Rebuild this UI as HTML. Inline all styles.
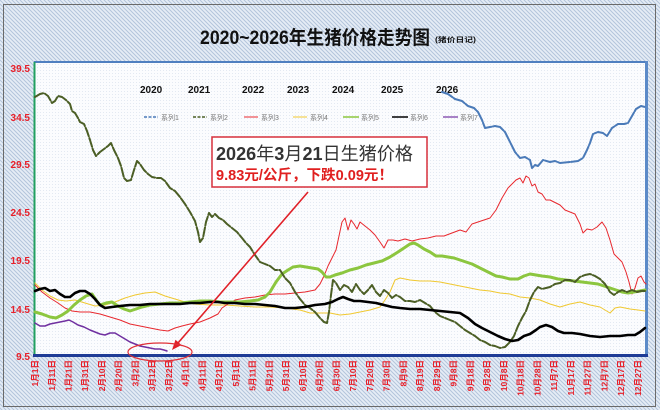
<!DOCTYPE html>
<html><head><meta charset="utf-8"><style>
html,body{margin:0;padding:0;background:#e8eef6;}
body{width:660px;height:410px;overflow:hidden;}
svg{display:block;}
.yl{font-family:"Liberation Sans","Noto Sans CJK SC",sans-serif;font-weight:bold;font-size:10px;fill:#e8202a;}
.xl{font-family:"Liberation Sans","Noto Sans CJK SC",sans-serif;font-weight:bold;font-size:8.5px;fill:#e8202a;}
.yr{font-family:"Liberation Sans",sans-serif;font-weight:bold;font-size:10px;fill:#111;}
.lg{font-family:"Liberation Sans","Noto Sans CJK SC",sans-serif;font-size:7px;fill:#777;}
</style></head><body>
<svg width="660" height="410" viewBox="0 0 660 410" xmlns="http://www.w3.org/2000/svg">
<defs>
<pattern id="hatch" patternUnits="userSpaceOnUse" width="4" height="4">
<rect width="4" height="4" fill="#e6edf6"/>
<path d="M0,0 L4,4 M-1,3 L1,5 M3,-1 L5,1" stroke="#b3c4db" stroke-width="1"/>
</pattern>
<pattern id="dots" patternUnits="userSpaceOnUse" width="3" height="3">
<rect width="3" height="3" fill="#fbfcfe"/>
<rect x="1" y="1" width="1" height="1" fill="#e3e9f2"/>
</pattern>
</defs>
<rect x="0" y="0" width="660" height="410" fill="url(#hatch)"/>
<rect x="3.5" y="4.5" width="652" height="402" fill="none" stroke="#6a6a6a" stroke-width="1"/>

<!-- title -->
<text x="200" y="44" textLength="230" lengthAdjust="spacingAndGlyphs" font-family="'Liberation Sans','Noto Sans CJK SC',sans-serif" font-weight="bold" font-size="19" fill="#111">2020~2026年生猪价格走势图</text>
<text x="435" y="42" textLength="41" lengthAdjust="spacingAndGlyphs" font-family="'Liberation Sans','Noto Sans CJK SC',sans-serif" font-weight="bold" font-size="7" fill="#111">(猪价日记)</text>

<!-- plot area -->
<rect x="34" y="62" width="612" height="294" fill="url(#dots)"/>
<line x1="34" y1="62" x2="647" y2="62" stroke="#4f7fc0" stroke-width="2"/>
<line x1="646.5" y1="61" x2="646.5" y2="357" stroke="#5b8ac8" stroke-width="3"/>
<line x1="34.5" y1="62" x2="34.5" y2="357" stroke="#22a060" stroke-width="2"/>
<line x1="33" y1="355.5" x2="648" y2="355.5" stroke="#1f3c96" stroke-width="3"/>

<!-- y labels -->
<text class="yl" x="30" y="72" text-anchor="end">39.5</text>
<text class="yl" x="30" y="121" text-anchor="end">34.5</text>
<text class="yl" x="30" y="168" text-anchor="end">29.5</text>
<text class="yl" x="30" y="216" text-anchor="end">24.5</text>
<text class="yl" x="30" y="264" text-anchor="end">19.5</text>
<text class="yl" x="30" y="313" text-anchor="end">14.5</text>
<text class="yl" x="30" y="360" text-anchor="end">9.5</text>

<!-- x labels -->
<g class="xl" text-anchor="end">
<text transform="translate(38,360) rotate(-90)">1月1日</text>
<text transform="translate(55,360) rotate(-90)">1月11日</text>
<text transform="translate(71.5,360) rotate(-90)">1月21日</text>
<text transform="translate(88.2,360) rotate(-90)">1月31日</text>
<text transform="translate(105,360) rotate(-90)">2月10日</text>
<text transform="translate(121.7,360) rotate(-90)">2月20日</text>
<text transform="translate(138.5,360) rotate(-90)">3月2日</text>
<text transform="translate(155.2,360) rotate(-90)">3月12日</text>
<text transform="translate(172,360) rotate(-90)">3月22日</text>
<text transform="translate(188.7,360) rotate(-90)">4月1日</text>
<text transform="translate(205.5,360) rotate(-90)">4月11日</text>
<text transform="translate(222.2,360) rotate(-90)">4月21日</text>
<text transform="translate(239,360) rotate(-90)">5月1日</text>
<text transform="translate(255.7,360) rotate(-90)">5月11日</text>
<text transform="translate(272.5,360) rotate(-90)">5月21日</text>
<text transform="translate(289.2,360) rotate(-90)">5月31日</text>
<text transform="translate(306,360) rotate(-90)">6月10日</text>
<text transform="translate(322.7,360) rotate(-90)">6月20日</text>
<text transform="translate(339.5,360) rotate(-90)">6月30日</text>
<text transform="translate(356.2,360) rotate(-90)">7月10日</text>
<text transform="translate(373,360) rotate(-90)">7月20日</text>
<text transform="translate(389.7,360) rotate(-90)">7月30日</text>
<text transform="translate(406.5,360) rotate(-90)">8月9日</text>
<text transform="translate(423.2,360) rotate(-90)">8月19日</text>
<text transform="translate(440,360) rotate(-90)">8月29日</text>
<text transform="translate(456.7,360) rotate(-90)">9月8日</text>
<text transform="translate(473.5,360) rotate(-90)">9月18日</text>
<text transform="translate(490.2,360) rotate(-90)">9月28日</text>
<text transform="translate(507,360) rotate(-90)">10月8日</text>
<text transform="translate(523.7,360) rotate(-90)">10月18日</text>
<text transform="translate(540.5,360) rotate(-90)">10月28日</text>
<text transform="translate(557.2,360) rotate(-90)">11月7日</text>
<text transform="translate(574,360) rotate(-90)">11月17日</text>
<text transform="translate(590.7,360) rotate(-90)">11月27日</text>
<text transform="translate(607.5,360) rotate(-90)">12月7日</text>
<text transform="translate(624.2,360) rotate(-90)">12月17日</text>
<text transform="translate(641,360) rotate(-90)">12月27日</text>
</g>

<!-- year labels -->
<text class="yr" x="140" y="93">2020</text>
<text class="yr" x="188" y="93">2021</text>
<text class="yr" x="242" y="93">2022</text>
<text class="yr" x="287" y="93">2023</text>
<text class="yr" x="332" y="93">2024</text>
<text class="yr" x="381" y="93">2025</text>
<text class="yr" x="436" y="93">2026</text>

<!-- legend -->
<line x1="144" y1="117" x2="158" y2="117" stroke="#4a7ab8" stroke-width="1.5" stroke-dasharray="3,1.5"/><text class="lg" x="161" y="120">系列1</text>
<line x1="193" y1="117" x2="207" y2="117" stroke="#4b5e25" stroke-width="1.5" stroke-dasharray="3,1.5"/><text class="lg" x="210" y="120">系列2</text>
<line x1="244" y1="117" x2="258" y2="117" stroke="#e8282e" stroke-width="1"/><text class="lg" x="261" y="120">系列3</text>
<line x1="293" y1="117" x2="307" y2="117" stroke="#f0c830" stroke-width="1"/><text class="lg" x="310" y="120">系列4</text>
<line x1="343" y1="117" x2="359" y2="117" stroke="#8cc63f" stroke-width="1.5"/><text class="lg" x="361" y="120">系列5</text>
<line x1="392" y1="117" x2="408" y2="117" stroke="#000" stroke-width="1.5"/><text class="lg" x="410" y="120">系列6</text>
<line x1="443" y1="117" x2="458" y2="117" stroke="#7030a0" stroke-width="1.2"/><text class="lg" x="460" y="120">系列7</text>

<!-- series -->
<g fill="none" stroke-linejoin="round" stroke-linecap="round">
<polyline stroke="#f0c830" stroke-width="1" points="35,283 42,290 50,296 58,300 66,301 75,300 85,303 95,306 105,305 115,302 125,298 135,295 145,293 155,292 165,296 175,299 185,302 195,304 210,305 225,305 240,306 255,307 270,307 285,308 300,310 310,313 320,313 330,313 340,315 350,314 360,312 370,310 380,307 385,300 390,292 395,280 400,278 410,280 420,281 430,281 440,282 450,284 460,286 470,288 480,290 490,291 500,293 510,294 520,297 530,298 540,300 550,304 560,307 570,304 580,302 590,305 600,307 605,310 610,313 615,308 620,307 630,309 638,310 645,311"/>
<polyline stroke="#e8282e" stroke-width="1" points="35,285 42,292 50,298 58,303 65,308 72,311 80,312 90,312 100,314 110,317 120,320 130,324 140,326 150,328 160,330 168,331 175,328 182,326 190,324 200,322 210,318 218,314 222,308 228,304 235,300 245,298 255,297 265,295 275,294 285,294 295,293 305,292 315,290 320,284 324,276 328,266 332,258 336,250 339,236 342,222 345,218 348,230 351,220 354,224 357,229 360,222 365,226 370,230 375,235 380,242 384,248 388,240 393,240 398,241 405,239 412,241 420,239 428,238 436,236 444,236 452,233 460,230 466,232 472,224 478,222 484,220 490,218 496,210 502,198 508,188 512,184 516,180 520,178 523,183 526,176 529,178 532,186 535,184 538,192 542,194 546,200 550,200 556,203 560,205 565,210 570,212 575,214 580,224 583,233 587,229 592,230 597,227 602,222 606,228 610,240 614,254 618,258 622,262 626,272 629,282 632,294 635,288 638,278 641,276 644,282 646,284"/>
<polyline stroke="#8cc63f" stroke-width="3" points="35,312 42,314 50,317 56,318 62,315 68,311 74,305 80,300 86,296 92,294 96,300 100,305 106,303 112,302 118,306 124,309 130,311 136,309 142,307 150,305 160,304 170,303 180,303 190,302 200,301 210,301 220,302 230,302 240,302 250,301 258,300 265,297 270,292 276,282 282,274 288,270 293,267 300,266 306,267 312,268 318,269 322,272 326,277 330,277 335,275 342,273 350,270 358,268 366,265 374,263 382,261 390,257 398,252 404,248 410,244 414,243 418,245 424,249 430,252 436,256 442,256 448,257 454,258 460,260 466,262 472,264 478,267 484,270 490,273 496,276 502,277 510,279 518,279 524,276 530,274 536,275 542,276 550,277 558,279 566,280 574,281 582,282 590,283 598,284 604,286 610,288 616,290 622,292 628,293 634,292 640,291 645,290"/>
<polyline stroke="#4b5e25" stroke-width="2" stroke-dasharray="9,2" points="35,97 40,94 44,93 48,96 52,103 55,101 58,96 62,97 66,100 70,104 72,111 75,113 78,118 80,122 84,124 87,131 90,140 93,150 96,156 100,152 104,149 108,146 111,143 114,150 118,158 121,166 124,178 127,181 131,180 134,170 137,161 140,164 144,170 148,174 152,177 157,178 161,178 165,181 170,188 175,191 180,197 185,204 190,212 195,221 198,232 200,242 203,238 206,222 209,213 212,217 215,214 219,218 223,220 227,224 232,228 237,232 242,238 246,243 250,247 255,255 260,262 265,264 270,266 275,270 280,270 285,278 290,283 295,292 300,299 305,305 310,308 315,312 320,318 324,322 327,323 329,312 331,295 333,280 336,283 340,290 344,285 348,287 352,292 356,284 360,290 364,294 368,290 372,285 376,292 380,296 384,290 388,293 392,298 396,295 400,297 405,301 410,301 415,302 420,300 425,303 430,306 435,312 440,316 445,318 450,320 455,322 460,326 465,330 470,333 475,336 480,340 485,342 490,345 495,346 500,348 505,347 510,342 514,336 518,326 522,318 526,311 530,300 534,292 538,287 542,289 546,288 550,287 555,284 560,283 565,280 570,280 575,282 580,277 585,275 590,274 595,276 600,279 605,284 610,292 614,295 618,292 622,290 627,292 632,290 637,292 641,291 645,291"/>
<polyline stroke="#4a7ab8" stroke-width="2" stroke-dasharray="12,1.5" points="442,92 448,94 455,99 462,101 468,106 474,108 478,112 482,120 485,128 490,127 495,126 500,127 505,132 510,142 515,152 520,158 525,157 530,160 532,168 535,165 538,166 543,160 550,162 555,161 560,163 570,162 578,161 583,158 587,150 590,143 593,134 598,132 603,133 607,136 612,128 618,124 624,124 628,123 632,116 636,109 641,106 645,107"/>
<polyline stroke="#000" stroke-width="2.6" points="35,291 40,289 45,288 50,291 55,290 60,294 65,297 70,297 75,293 80,291 85,291 90,294 95,299 100,305 105,308 112,307 120,306 130,305 140,305 150,304 160,304 170,304 180,304 190,303 200,303 210,302 218,302 225,303 235,303 245,304 255,304 265,305 275,306 285,308 295,308 305,307 315,305 325,304 332,302 338,299 343,297 348,299 354,301 360,301 368,302 376,303 384,305 392,307 400,308 410,309 420,309 430,310 440,311 450,312 460,313 468,318 475,324 482,328 490,332 498,336 505,339 512,341 518,340 524,336 530,334 536,330 540,327 546,325 552,327 558,331 564,333 572,333 580,334 590,336 600,337 610,336 620,336 628,335 635,335 640,332 645,328"/>
<polyline stroke="#7030a0" stroke-width="1.5" points="35,323 40,326 45,326 50,324 55,323 60,322 65,321 69,320 73,322 78,325 84,327 90,330 95,332 100,334 105,335 110,333 115,333 120,336 125,339 130,342 135,344 140,346 145,347 150,348 155,349 160,349 164,350 167,351"/>
</g>

<!-- annotation -->
<rect x="212" y="137" width="215" height="50" fill="#fff" stroke="#d8303c" stroke-width="1.5"/>
<text x="216" y="160" textLength="197" lengthAdjust="spacingAndGlyphs" font-family="'Liberation Sans','Noto Sans CJK SC',sans-serif" font-size="18" fill="#333"><tspan font-weight="bold">2026</tspan>年<tspan font-weight="bold">3</tspan>月<tspan font-weight="bold">21</tspan>日生猪价格</text>
<text x="216" y="180" textLength="177" lengthAdjust="spacingAndGlyphs" font-family="'Liberation Sans','Noto Sans CJK SC',sans-serif" font-size="14.5" font-weight="bold" fill="#e02020">9.83元/公斤，下跌0.09元！</text>

<line x1="308" y1="192" x2="178" y2="343" stroke="#e02028" stroke-width="1.6"/>
<polygon points="172,350 181.5,345 175.5,339.8" fill="#e02028"/>
<ellipse cx="160" cy="352" rx="32" ry="9" fill="none" stroke="#e03038" stroke-width="1.2"/>
</svg>
</body></html>
